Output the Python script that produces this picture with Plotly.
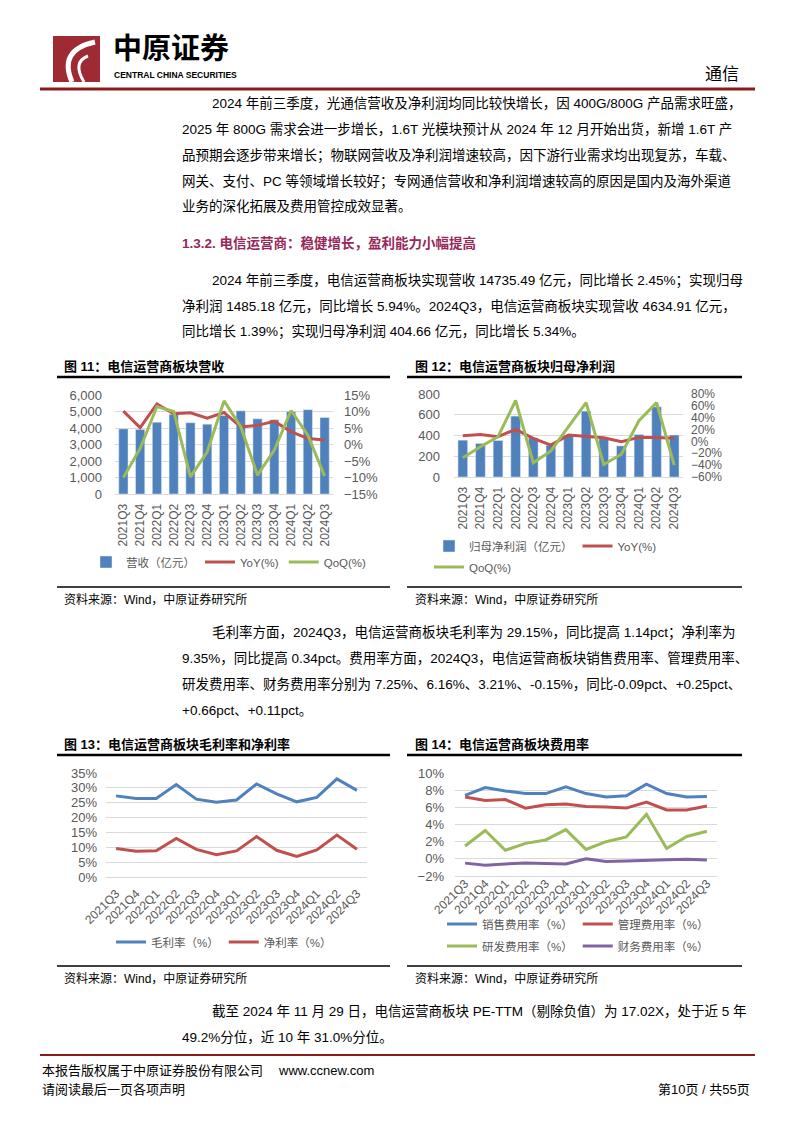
import plotly.graph_objects as go

W, H = 794, 1123

quarters = ['2021Q3', '2021Q4', '2022Q1', '2022Q2', '2022Q3', '2022Q4', '2023Q1',
            '2023Q2', '2023Q3', '2023Q4', '2024Q1', '2024Q2', '2024Q3']

# 图11 营收
revenue = [3950, 3910, 4350, 4830, 4320, 4230, 4760, 5040, 4560, 4500, 5000, 5110, 4635]
rev_yoy = [10.1, 5.1, 12.3, 9.3, 9.6, 8.0, 9.7, 5.3, 5.8, 7.0, 3.9, 1.8, 1.39]
rev_qoq = [-10.0, -1.2, 11.5, 10.0, -9.8, -2.2, 13.2, 5.4, -9.3, -1.7, 10.3, 2.8, -9.6]

# 图12 归母净利润
profit = [355, 323, 352, 587, 378, 306, 403, 635, 381, 300, 410, 677, 405]
profit_yoy = [9.6, 11.5, 7.9, 20.3, 5.1, -6.2, 10.7, 9.0, 6.2, -0.6, 6.8, 6.8, 5.34]
profit_qoq = [-27.7, -9.0, 7.9, 69.0, -36.0, -16.0, 25.0, 65.5, -39.0, -21.5, 35.0, 65.5, -40.0]

# 图13 毛利率 / 净利率
gross_margin = [27.3, 26.4, 26.4, 31.1, 26.2, 25.2, 25.9, 31.3, 28.0, 25.3, 26.8, 33.0, 29.15]
net_margin = [9.6, 8.7, 8.8, 13.0, 9.3, 7.5, 8.8, 13.6, 9.0, 6.9, 9.1, 14.1, 9.35]

# 图14 费用率
sales_rate = [7.4, 8.3, 7.9, 7.6, 7.6, 8.4, 7.6, 7.2, 7.34, 8.7, 7.6, 7.2, 7.25]
admin_rate = [7.2, 6.8, 6.9, 5.9, 6.3, 6.4, 6.1, 6.05, 5.91, 6.6, 5.7, 5.7, 6.16]
rd_rate = [1.5, 3.3, 1.0, 1.8, 2.2, 3.4, 1.1, 2.0, 2.55, 5.2, 1.2, 2.6, 3.21]
fin_rate = [-0.5, -0.75, -0.6, -0.5, -0.55, -0.6, 0.0, -0.3, -0.26, -0.15, -0.1, -0.05, -0.15]

FONT = "Liberation Sans, Arial, Noto Sans CJK SC, sans-serif"
GREY = "#595959"
GRID = "#D9D9D9"
BLUE = "#4F81BD"
RED = "#C0504D"
GREEN = "#9BBB59"
PURPLE = "#8064A2"
MAROON = "#8B1A1A"
BODY = 13.5


def px(x):
    return x / W


def py(y):
    return 1 - y / H


def line_trace(y, name, color, xa, ya, lg):
    return go.Scatter(x=quarters, y=y, name=name, mode='lines',
                      line=dict(color=color, width=3),
                      xaxis=xa, yaxis=ya, legend=lg)


fig = go.Figure()

# chart 11
fig.add_trace(go.Bar(x=quarters, y=revenue, name='营收（亿元）', marker_color=BLUE,
                     width=0.55, xaxis='x', yaxis='y', legend='legend'))
fig.add_trace(line_trace(rev_yoy, 'YoY(%)', RED, 'x', 'y2', 'legend'))
fig.add_trace(line_trace(rev_qoq, 'QoQ(%)', GREEN, 'x', 'y2', 'legend'))

# chart 12
fig.add_trace(go.Bar(x=quarters, y=profit, name='归母净利润（亿元）', marker_color=BLUE,
                     width=0.55, xaxis='x2', yaxis='y3', legend='legend2'))
fig.add_trace(line_trace(profit_yoy, 'YoY(%)', RED, 'x2', 'y4', 'legend2'))
fig.add_trace(line_trace(profit_qoq, 'QoQ(%)', GREEN, 'x2', 'y4', 'legend3'))

# chart 13
fig.add_trace(line_trace(gross_margin, '毛利率（%）', BLUE, 'x3', 'y5', 'legend4'))
fig.add_trace(line_trace(net_margin, '净利率（%）', RED, 'x3', 'y5', 'legend4'))

# chart 14
fig.add_trace(line_trace(sales_rate, '销售费用率（%）', BLUE, 'x4', 'y6', 'legend5'))
fig.add_trace(line_trace(admin_rate, '管理费用率（%）', RED, 'x4', 'y6', 'legend5'))
fig.add_trace(line_trace(rd_rate, '研发费用率（%）', GREEN, 'x4', 'y6', 'legend6'))
fig.add_trace(line_trace(fin_rate, '财务费用率（%）', PURPLE, 'x4', 'y6', 'legend6'))


def xcat(x0, x1, anchor, angle, size=12, standoff=4):
    return dict(domain=[px(x0), px(x1)], anchor=anchor, type='category',
                range=[-0.5, 12.5], tickangle=angle,
                tickfont=dict(size=size, color=GREY, family=FONT),
                showline=True, linecolor=GRID, linewidth=1, showgrid=False,
                ticks='', automargin=False, fixedrange=True,
                ticklabelstandoff=standoff)


def yval(y_top, y_bot, anchor, rng, dtick, standoff=10, size=13, **kw):
    d = dict(domain=[py(y_bot), py(y_top)], anchor=anchor, range=rng, dtick=dtick,
             tickfont=dict(size=size, color=GREY, family=FONT),
             showgrid=True, gridcolor=GRID, gridwidth=1, zeroline=False,
             showline=False, ticks='', automargin=False, fixedrange=True,
             ticklabelstandoff=standoff)
    d.update(kw)
    return d


def legend_at(x, y):
    return dict(orientation='h', x=px(x), y=py(y), xanchor='left', yanchor='middle',
                font=dict(size=11.5, color=GREY, family=FONT),
                bgcolor='rgba(0,0,0,0)', itemclick=False, itemdoubleclick=False,
                tracegroupgap=0)


annotations = []


def text(x, y, s, size=BODY, color='black', anchor='left'):
    annotations.append(dict(x=px(x), y=py(y), xref='paper', yref='paper', text=s,
                            showarrow=False, xanchor=anchor, yanchor='middle',
                            font=dict(size=size, color=color, family=FONT)))


# header
text(111, 49, '<b>中原证券</b>', size=29)
text(112, 75, '<b>CENTRAL CHINA SECURITIES</b>', size=8.5)
text(741, 75, '通信', size=17, anchor='right')

# paragraph 1
text(210, 103, '2024 年前三季度，光通信营收及净利润均同比较快增长，因 400G/800G 产品需求旺盛，')
text(180, 129, '2025 年 800G 需求会进一步增长，1.6T 光模块预计从 2024 年 12 月开始出货，新增 1.6T 产')
text(180, 155, '品预期会逐步带来增长；物联网营收及净利润增速较高，因下游行业需求均出现复苏，车载、')
text(180, 181, '网关、支付、PC 等领域增长较好；专网通信营收和净利润增速较高的原因是国内及海外渠道')
text(180, 207, '业务的深化拓展及费用管控成效显著。')

text(180, 243, '<b>1.3.2. 电信运营商：稳健增长，盈利能力小幅提高</b>', color='#96285A')

text(210, 280, '2024 年前三季度，电信运营商板块实现营收 14735.49 亿元，同比增长 2.45%；实现归母')
text(180, 306, '净利润 1485.18 亿元，同比增长 5.94%。2024Q3，电信运营商板块实现营收 4634.91 亿元，')
text(180, 332, '同比增长 1.39%；实现归母净利润 404.66 亿元，同比增长 5.34%。')

# chart titles / sources
text(62, 366, '<b>图 11：电信运营商板块营收</b>', size=13)
text(413, 366, '<b>图 12：电信运营商板块归母净利润</b>', size=13)
text(62, 599, '资料来源：Wind，中原证券研究所', size=12)
text(413, 599, '资料来源：Wind，中原证券研究所', size=12)

text(210, 632, '毛利率方面，2024Q3，电信运营商板块毛利率为 29.15%，同比提高 1.14pct；净利率为')
text(180, 658, '9.35%，同比提高 0.34pct。费用率方面，2024Q3，电信运营商板块销售费用率、管理费用率、')
text(180, 684, '研发费用率、财务费用率分别为 7.25%、6.16%、3.21%、-0.15%，同比-0.09pct、+0.25pct、')
text(180, 710, '+0.66pct、+0.11pct。')

text(62, 744, '<b>图 13：电信运营商板块毛利率和净利率</b>', size=13)
text(413, 744, '<b>图 14：电信运营商板块费用率</b>', size=13)
text(62, 978, '资料来源：Wind，中原证券研究所', size=12)
text(413, 978, '资料来源：Wind，中原证券研究所', size=12)

text(210, 1011, '截至 2024 年 11 月 29 日，电信运营商板块 PE-TTM（剔除负值）为 17.02X，处于近 5 年')
text(180, 1037, '49.2%分位，近 10 年 31.0%分位。')

# footer
text(40, 1070, '本报告版权属于中原证券股份有限公司', size=13)
text(276, 1070, 'www.ccnew.com', size=13)
text(40, 1089, '请阅读最后一页各项声明', size=13)
text(752, 1089, '第10页 / 共55页', size=13, anchor='right')


def hline(x0, x1, y, color='black', width=1.5):
    return dict(type='line', xref='paper', yref='paper', x0=px(x0), x1=px(x1),
                y0=py(y), y1=py(y), line=dict(color=color, width=width))


shapes = [
    hline(40, 755, 89, MAROON, 3),
    hline(40, 755, 1055, MAROON, 2),
    hline(57, 390, 377, 'black', 2.5),
    hline(407, 742, 377, 'black', 2.5),
    hline(57, 390, 587, 'black', 1.5),
    hline(407, 742, 587, 'black', 1.5),
    hline(57, 390, 755, 'black', 2.5),
    hline(407, 742, 755, 'black', 2.5),
    hline(57, 390, 966, 'black', 1.5),
    hline(407, 742, 966, 'black', 1.5),
    # logo
    dict(type='rect', xref='paper', yref='paper', x0=px(53), x1=px(100),
         y0=py(82), y1=py(36), fillcolor='#9E2A33', line=dict(width=0)),
    dict(type='path', xref='paper', yref='paper',
         path='M %f,%f Q %f,%f %f,%f' % (px(95), py(42), px(58), py(50), px(72), py(82)),
         line=dict(color='white', width=5)),
    dict(type='path', xref='paper', yref='paper',
         path='M %f,%f Q %f,%f %f,%f' % (px(88), py(56), px(72), py(62), px(84), py(82)),
         line=dict(color='white', width=3)),
]

fig.update_layout(
    width=W, height=H,
    margin=dict(l=0, r=0, t=0, b=0),
    paper_bgcolor='white', plot_bgcolor='white',
    font=dict(family=FONT, color=GREY),
    showlegend=True,
    xaxis=xcat(115, 333, 'y', -90),
    yaxis=yval(395, 494, 'x', [0, 6000], 1000, 12, tickformat=',d'),
    yaxis2=yval(395, 494, 'x', [-15, 15], 5, 10, overlaying='y', side='right',
                showgrid=False, ticksuffix='%'),
    xaxis2=xcat(454, 683, 'y3', -90),
    yaxis3=yval(394, 477, 'x2', [0, 800], 200, 13),
    yaxis4=yval(394, 477, 'x2', [-60, 80], 20, 7, size=12, overlaying='y3',
                side='right', showgrid=False, ticksuffix='%'),
    xaxis3=xcat(106, 367, 'y5', -45),
    yaxis5=yval(773, 877, 'x3', [0, 35], 5, 8, ticksuffix='%'),
    xaxis4=xcat(455, 717, 'y6', -45, standoff=-5),
    yaxis6=yval(773, 876, 'x4', [-2, 10], 2, 10, ticksuffix='%'),
    legend=legend_at(86, 562),
    legend2=legend_at(429, 546),
    legend3=legend_at(429, 567),
    legend4=legend_at(111, 942),
    legend5=legend_at(442, 924),
    legend6=legend_at(442, 946),
    annotations=annotations,
    shapes=shapes,
)

fig.write_html("out.html", config={'displayModeBar': False},
               post_script="document.body.style.margin='0';")
